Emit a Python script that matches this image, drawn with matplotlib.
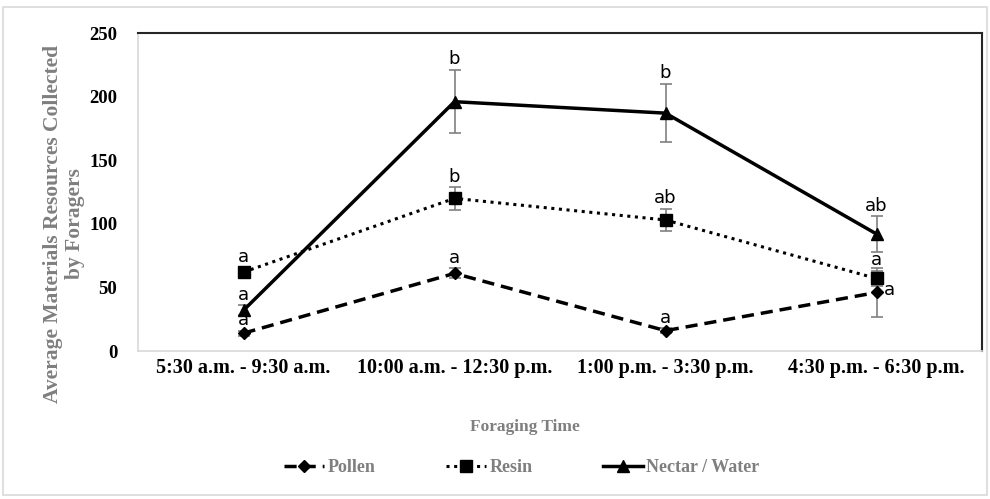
import numpy as np
import matplotlib.pyplot as plt
from matplotlib.patches import Rectangle

times = ['5:30 a.m. - 9:30 a.m.', '10:00 a.m. - 12:30 p.m.', '1:00 p.m. - 3:30 p.m.', '4:30 p.m. - 6:30 p.m.']

pollen = [14, 61, 16, 46]
pollen_err = [2, 4, 2, 19]
pollen_lab = ['a', 'a', 'a', 'a']

resin = [62, 120, 103, 57]
resin_err = [4, 9, 9, 6]
resin_lab = ['a', 'b', 'ab', 'a']

nectar = [32, 196, 187, 92]
nectar_err = [4, 25, 23, 14]
nectar_lab = ['a', 'b', 'b', 'ab']

serif = 'Liberation Serif'
gray = '#7f7f7f'

fig = plt.figure(figsize=(9.9, 4.99), dpi=100)
fig.patches.append(Rectangle((3/990, 4/499), 984/990, 488/499, transform=fig.transFigure,
                             fill=False, edgecolor='#d9d9d9', lw=1.2))
ax = fig.add_axes([138/990, 1 - 351/499, 844/990, 318/499])

x = np.arange(len(times)) + 0.5

def draw(vals, err, ls, mk, ms, lw):
    ax.errorbar(x, vals, yerr=err, fmt='none', ecolor='#808080', elinewidth=1.2, capsize=4, capthick=1.2, zorder=2)
    ln, = ax.plot(x, vals, color='black', ls=ls, lw=lw, marker=mk, markersize=ms, zorder=3)
    return ln

l1 = draw(pollen, pollen_err, (0, (3.5, 2)), 'D', 6, 2.5)
l2 = draw(resin, resin_err, (0, (1, 1.5)), 's', 8, 2.2)
l3 = draw(nectar, nectar_err, '-', '^', 8, 2.5)

for vals, err, labs in [(pollen, pollen_err, pollen_lab), (resin, resin_err, resin_lab), (nectar, nectar_err, nectar_lab)]:
    for i in range(len(vals)):
        if vals is pollen and i == 3:
            ax.annotate(labs[i], (x[i], vals[i]), xytext=(5, 2), textcoords='offset points',
                        ha='left', va='center', fontsize=13, family='DejaVu Sans')
        else:
            ax.annotate(labs[i], (x[i], vals[i] + err[i]), xytext=(0, 1), textcoords='offset points',
                        ha='center', va='bottom', fontsize=13, family='DejaVu Sans')

ax.set_xlim(0, 4)
ax.set_ylim(0, 250)
ax.set_yticks([0, 50, 100, 150, 200, 250])
ax.set_xticks(x)
ax.set_xticklabels(times, family=serif, fontweight='bold', fontsize=14.5)
for t in ax.get_yticklabels():
    t.set_family(serif)
    t.set_fontweight('bold')
    t.set_fontsize(13.5)
ax.tick_params(axis='y', length=0, pad=15)
ax.tick_params(axis='x', length=0, pad=5)

for s in ['top', 'right']:
    ax.spines[s].set_color('#262626')
    ax.spines[s].set_linewidth(1.5)
for s in ['left', 'bottom']:
    ax.spines[s].set_color('#d9d9d9')
    ax.spines[s].set_linewidth(1.2)

fig.text(64/990, 1 - 224/499, 'Average Materials Resources Collected\nby Foragers', rotation=90,
         ha='center', va='center', multialignment='center', family=serif, fontweight='bold',
         fontsize=15.5, color=gray, linespacing=1.15)
fig.text(525/990, 1 - 427/499, 'Foraging Time', ha='center', va='center', family=serif,
         fontweight='bold', fontsize=12.5, color=gray)

fig.legend([l1, l2, l3], ['Pollen', 'Resin', 'Nectar / Water'], loc='center', bbox_to_anchor=(522/990, 1 - 468/499),
           ncol=3, frameon=False, prop={'family': serif, 'weight': 'bold', 'size': 13}, labelcolor=gray,
           handlelength=2.2, handletextpad=0.2, columnspacing=3.9)

fig.savefig('out.png', dpi=100)
